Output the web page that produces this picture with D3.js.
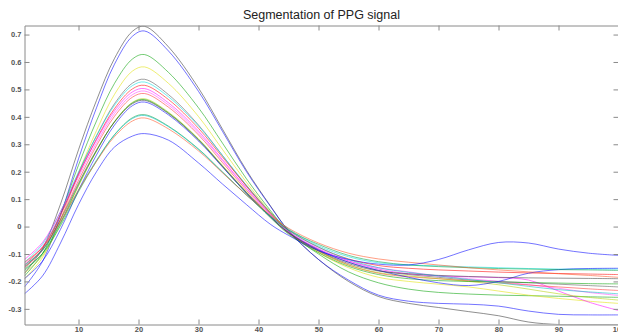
<!DOCTYPE html>
<html>
<head>
<meta charset="utf-8">
<script src="https://cdn.jsdelivr.net/npm/d3@7"></script>
<style>
  body { margin: 0; background: #fff; }
  svg { display: block; }
  .axis path, .axis line { stroke: #8a8a8a; }
  .axis text { font-family: "Liberation Sans", Arial, sans-serif; font-size: 7.5px; font-weight: bold; fill: #555; }
</style>
</head>
<body>
<script>
// sample positions (x)
const xs = [1, 4, 7, 10, 13, 16, 19, 21, 25, 30, 34, 38, 42, 45, 50, 55, 60, 65, 70, 75, 80, 85, 90, 95, 100];

// one array per segment
const k1 = [-0.17, -0.08, 0.082, 0.28, 0.46, 0.613, 0.712, 0.73, 0.655, 0.505, 0.355, 0.205, 0.075, -0.015, -0.12, -0.2, -0.255, -0.28, -0.295, -0.31, -0.325, -0.348, -0.357, -0.357, -0.357];
const b1 = [-0.22, -0.127, 0.041, 0.247, 0.433, 0.592, 0.694, 0.713, 0.64, 0.493, 0.347, 0.2, 0.073, -0.015, -0.12, -0.195, -0.25, -0.272, -0.28, -0.283, -0.29, -0.308, -0.32, -0.322, -0.322];
const g1 = [-0.18, -0.099, 0.046, 0.224, 0.385, 0.522, 0.611, 0.627, 0.562, 0.433, 0.304, 0.174, 0.058, -0.02, -0.1, -0.165, -0.205, -0.228, -0.24, -0.246, -0.25, -0.252, -0.254, -0.256, -0.258];
const y1 = [-0.19, -0.113, 0.026, 0.196, 0.35, 0.482, 0.567, 0.582, 0.522, 0.401, 0.281, 0.161, 0.052, -0.018, -0.095, -0.15, -0.185, -0.2, -0.21, -0.22, -0.235, -0.25, -0.262, -0.272, -0.28];
const k2 = [-0.15, -0.081, 0.042, 0.194, 0.331, 0.448, 0.523, 0.537, 0.481, 0.37, 0.259, 0.147, 0.047, -0.018, -0.085, -0.13, -0.16, -0.175, -0.185, -0.195, -0.2, -0.205, -0.21, -0.215, -0.22];
const c1 = [-0.13, -0.064, 0.054, 0.199, 0.33, 0.442, 0.514, 0.527, 0.473, 0.366, 0.259, 0.151, 0.052, -0.008, -0.07, -0.11, -0.132, -0.14, -0.143, -0.147, -0.15, -0.153, -0.155, -0.155, -0.155];
const r1 = [-0.14, -0.075, 0.043, 0.188, 0.319, 0.43, 0.502, 0.515, 0.463, 0.358, 0.253, 0.148, 0.05, -0.012, -0.075, -0.118, -0.142, -0.152, -0.158, -0.162, -0.166, -0.169, -0.171, -0.173, -0.175];
const m1 = [-0.12, -0.058, 0.054, 0.192, 0.316, 0.422, 0.491, 0.503, 0.451, 0.348, 0.244, 0.14, 0.043, -0.02, -0.082, -0.125, -0.155, -0.172, -0.18, -0.183, -0.186, -0.195, -0.235, -0.275, -0.306];
const m2 = [-0.135, -0.072, 0.041, 0.18, 0.305, 0.412, 0.481, 0.494, 0.443, 0.341, 0.24, 0.138, 0.044, -0.017, -0.08, -0.125, -0.15, -0.165, -0.18, -0.19, -0.2, -0.212, -0.225, -0.24, -0.251];
const r2 = [-0.15, -0.087, 0.028, 0.168, 0.295, 0.402, 0.472, 0.485, 0.435, 0.334, 0.233, 0.132, 0.038, -0.024, -0.09, -0.14, -0.17, -0.183, -0.19, -0.198, -0.205, -0.213, -0.22, -0.227, -0.233];
const y2 = [-0.17, -0.106, 0.008, 0.148, 0.275, 0.383, 0.453, 0.466, 0.417, 0.32, 0.223, 0.126, 0.036, -0.022, -0.09, -0.14, -0.168, -0.18, -0.19, -0.2, -0.212, -0.228, -0.245, -0.258, -0.268];
const g2 = [-0.16, -0.098, 0.014, 0.152, 0.276, 0.382, 0.451, 0.463, 0.414, 0.317, 0.219, 0.121, 0.032, -0.027, -0.095, -0.145, -0.175, -0.19, -0.197, -0.2, -0.202, -0.204, -0.206, -0.208, -0.209];
const b2 = [-0.19, -0.126, -0.01, 0.132, 0.261, 0.37, 0.441, 0.454, 0.407, 0.312, 0.217, 0.122, 0.035, -0.022, -0.085, -0.13, -0.16, -0.185, -0.205, -0.215, -0.2, -0.17, -0.157, -0.153, -0.152];
const k3 = [-0.145, -0.085, 0.024, 0.158, 0.279, 0.381, 0.448, 0.46, 0.412, 0.316, 0.22, 0.124, 0.036, -0.023, -0.088, -0.135, -0.162, -0.172, -0.178, -0.182, -0.185, -0.187, -0.188, -0.189, -0.19];
const g3 = [-0.155, -0.099, 0.003, 0.127, 0.239, 0.335, 0.397, 0.408, 0.366, 0.283, 0.199, 0.115, 0.038, -0.012, -0.065, -0.105, -0.128, -0.14, -0.146, -0.15, -0.153, -0.155, -0.157, -0.158, -0.16];
const c2 = [-0.14, -0.086, 0.013, 0.133, 0.242, 0.334, 0.394, 0.405, 0.364, 0.281, 0.198, 0.115, 0.038, -0.014, -0.075, -0.12, -0.15, -0.167, -0.18, -0.193, -0.205, -0.218, -0.23, -0.238, -0.245];
const r3 = [-0.13, -0.077, 0.017, 0.133, 0.238, 0.328, 0.385, 0.396, 0.356, 0.276, 0.196, 0.115, 0.041, -0.006, -0.06, -0.097, -0.118, -0.13, -0.14, -0.15, -0.158, -0.165, -0.172, -0.178, -0.185];
const b3 = [-0.245, -0.18, -0.06, 0.08, 0.2, 0.29, 0.33, 0.339, 0.315, 0.232, 0.155, 0.08, 0.008, -0.032, -0.088, -0.12, -0.137, -0.14, -0.12, -0.085, -0.058, -0.06, -0.082, -0.097, -0.105];

const seriesList = [k1, b1, g1, y1, k2, c1, r1, m1, m2, r2, y2, g2, b2, k3, g3, c2, r3, b3];
const seriesColors = ["#333333", "#0000ff", "#00a000", "#e0e000", "#555555", "#00e0e0", "#ff0000", "#ff00ff", "#ff40ff", "#ff3030", "#b0d000", "#00a000", "#0000ff", "#404040", "#00a040", "#00c0c0", "#ff5020", "#0000ff"];

const xTicks = [10, 20, 30, 40, 50, 60, 70, 80, 90, 100];
const yTicks = [-0.3, -0.2, -0.1, 0, 0.1, 0.2, 0.3, 0.4, 0.5, 0.6, 0.7];
const xLimits = [1, 100];
const yLimits = [-0.357, 0.733];

const W = 618, H = 333;
const pLeft = 24.5, pRight = 618.5, pTop = 25.5, pBottom = 324.5;

const svg = d3.select("body").append("svg")
    .attr("width", W)
    .attr("height", H);

const x = d3.scaleLinear().domain(xLimits).range([pLeft, pRight]);
const y = d3.scaleLinear().domain(yLimits).range([pBottom, pTop]);

svg.append("defs").append("clipPath")
    .attr("id", "plotclip")
    .append("rect")
    .attr("x", pLeft).attr("y", pTop)
    .attr("width", pRight - pLeft).attr("height", pBottom - pTop);

const line = d3.line()
    .x((d, i) => x(xs[i]))
    .y(d => y(d))
    .curve(d3.curveCatmullRom.alpha(0.5));

svg.append("g")
    .attr("clip-path", "url(#plotclip)")
    .selectAll("path")
    .data(seriesList)
    .enter()
    .append("path")
    .attr("d", line)
    .attr("fill", "none")
    .attr("stroke", (d, i) => seriesColors[i])
    .attr("stroke-width", 1)
    .attr("stroke-opacity", 0.55);

const fmt = d => String(+d.toFixed(1));

svg.append("g")
    .attr("class", "axis")
    .attr("transform", "translate(0," + pBottom + ")")
    .call(d3.axisBottom(x).tickValues(xTicks).tickFormat(fmt).tickSizeInner(-5).tickSizeOuter(0).tickPadding(2));
svg.append("g")
    .attr("class", "axis")
    .attr("transform", "translate(0," + pTop + ")")
    .call(d3.axisTop(x).tickValues(xTicks).tickFormat("").tickSizeInner(-5).tickSizeOuter(0));
svg.append("g")
    .attr("class", "axis")
    .attr("transform", "translate(" + pLeft + ",0)")
    .call(d3.axisLeft(y).tickValues(yTicks).tickFormat(fmt).tickSizeInner(-5).tickSizeOuter(0).tickPadding(3));
svg.append("g")
    .attr("class", "axis")
    .attr("transform", "translate(" + pRight + ",0)")
    .call(d3.axisRight(y).tickValues(yTicks).tickFormat("").tickSizeInner(-5).tickSizeOuter(0));

svg.append("text")
    .attr("x", (pLeft + pRight) / 2)
    .attr("y", 19)
    .attr("text-anchor", "middle")
    .attr("font-family", "Liberation Sans, Arial, sans-serif")
    .attr("font-size", 12.5)
    .attr("fill", "#222")
    .text("Segmentation of PPG signal");
</script>
</body>
</html>
